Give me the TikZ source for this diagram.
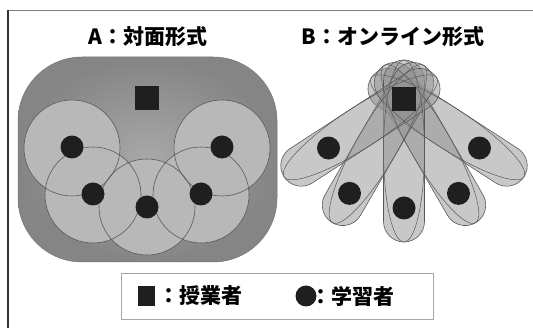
\documentclass[tikz,border=0pt]{standalone}
\usepackage{fontspec}
\newfontfamily\cjk{Noto Sans CJK JP}
\begin{document}
\begin{tikzpicture}[x=1pt,y=-1pt,
  dotA/.style={circle, fill=black!88, inner sep=0pt, minimum size=23pt},
  sqA/.style={rectangle, fill=black!88, inner sep=0pt, minimum size=24pt},
  ring/.style={draw=black!65, line width=0.6pt},
  caps/.style={fill=black!43, fill opacity=0.5, draw=black!65, draw opacity=1, line width=0.6pt, rounded corners=20.5pt},
  capsline/.style={draw=black!65, line width=0.5pt},
  title/.style={font=\cjk\bfseries\fontsize{21}{25}\selectfont, inner sep=0pt},
  legtext/.style={font=\cjk\bfseries\fontsize{21}{25}\selectfont, inner sep=0pt, anchor=west}]
\useasboundingbox (0,0) rectangle (533,328);
% frame
\draw[black!50, line width=1.4pt] (8,10.5) -- (533,10.5);
\draw[black!80, line width=1.4pt] (8,10) -- (8,328);
% titles
\node[title] (titleA) at (148,37) {A：対面形式};
\node[title] (titleB) at (393,37) {B：オンライン形式};
% panel A
\shadedraw[rounded corners=64pt, inner color=black!34, outer color=black!48, draw=black!55, line width=0.5pt] (18,57) rectangle (277,262);
\foreach \p in {(72,148),(93,195),(201,195),(222,148),(147,207)}
  \fill[black!28] \p circle[radius=48];
\foreach \p in {(72,148),(93,195),(201,195),(222,148),(147,207)}
  \draw[ring] \p circle[radius=48];
\node[sqA] (teacherA) at (147,98) {};
\node[dotA] (a1) at (72,147) {};
\node[dotA] (a2) at (93,194) {};
\node[dotA] (a3) at (147,207) {};
\node[dotA] (a4) at (201,194) {};
\node[dotA] (a5) at (222,147) {};
% panel B capsules
\foreach \a in {57,30,0,-30,-57}{
  \begin{scope}[shift={(404,99)}, rotate=\a]
    \path[caps] (-20.5,-39) rectangle (20.5,143);
  \end{scope}
}
\foreach \a in {57,30,0,-30,-57}{
  \begin{scope}[shift={(404,99)}, rotate=\a]
    \draw[capsline] (0,52) ellipse [x radius=20.5, y radius=91];
  \end{scope}
}
\node[sqA] (teacherB) at (404,99) {};
\begin{scope}[shift={(404,99)}]
  \node[dotA] (b1) at ({-90*sin(57)},{90*cos(57)}) {};
  \node[dotA] (b2) at ({-109*sin(30)},{109*cos(30)}) {};
  \node[dotA] (b3) at (0,109) {};
  \node[dotA] (b4) at ({109*sin(30)},{109*cos(30)}) {};
  \node[dotA] (b5) at ({90*sin(57)},{90*cos(57)}) {};
\end{scope}
% legend
\node[draw=black!35, line width=0.8pt, minimum width=312pt, minimum height=46pt, inner sep=0pt] (legend) at (277,296) {};
\node[rectangle, fill=black!88, inner sep=0pt, minimum width=17pt, minimum height=20pt] (legsq) at (146,296) {};
\node[legtext] (legT) at (158,296) {：授業者};
\node[circle, fill=black!88, inner sep=0pt, minimum size=21pt] (legdot) at (306,296) {};
\node[legtext] (legS) at (310,296) {：学習者};
\end{tikzpicture}
\end{document}
